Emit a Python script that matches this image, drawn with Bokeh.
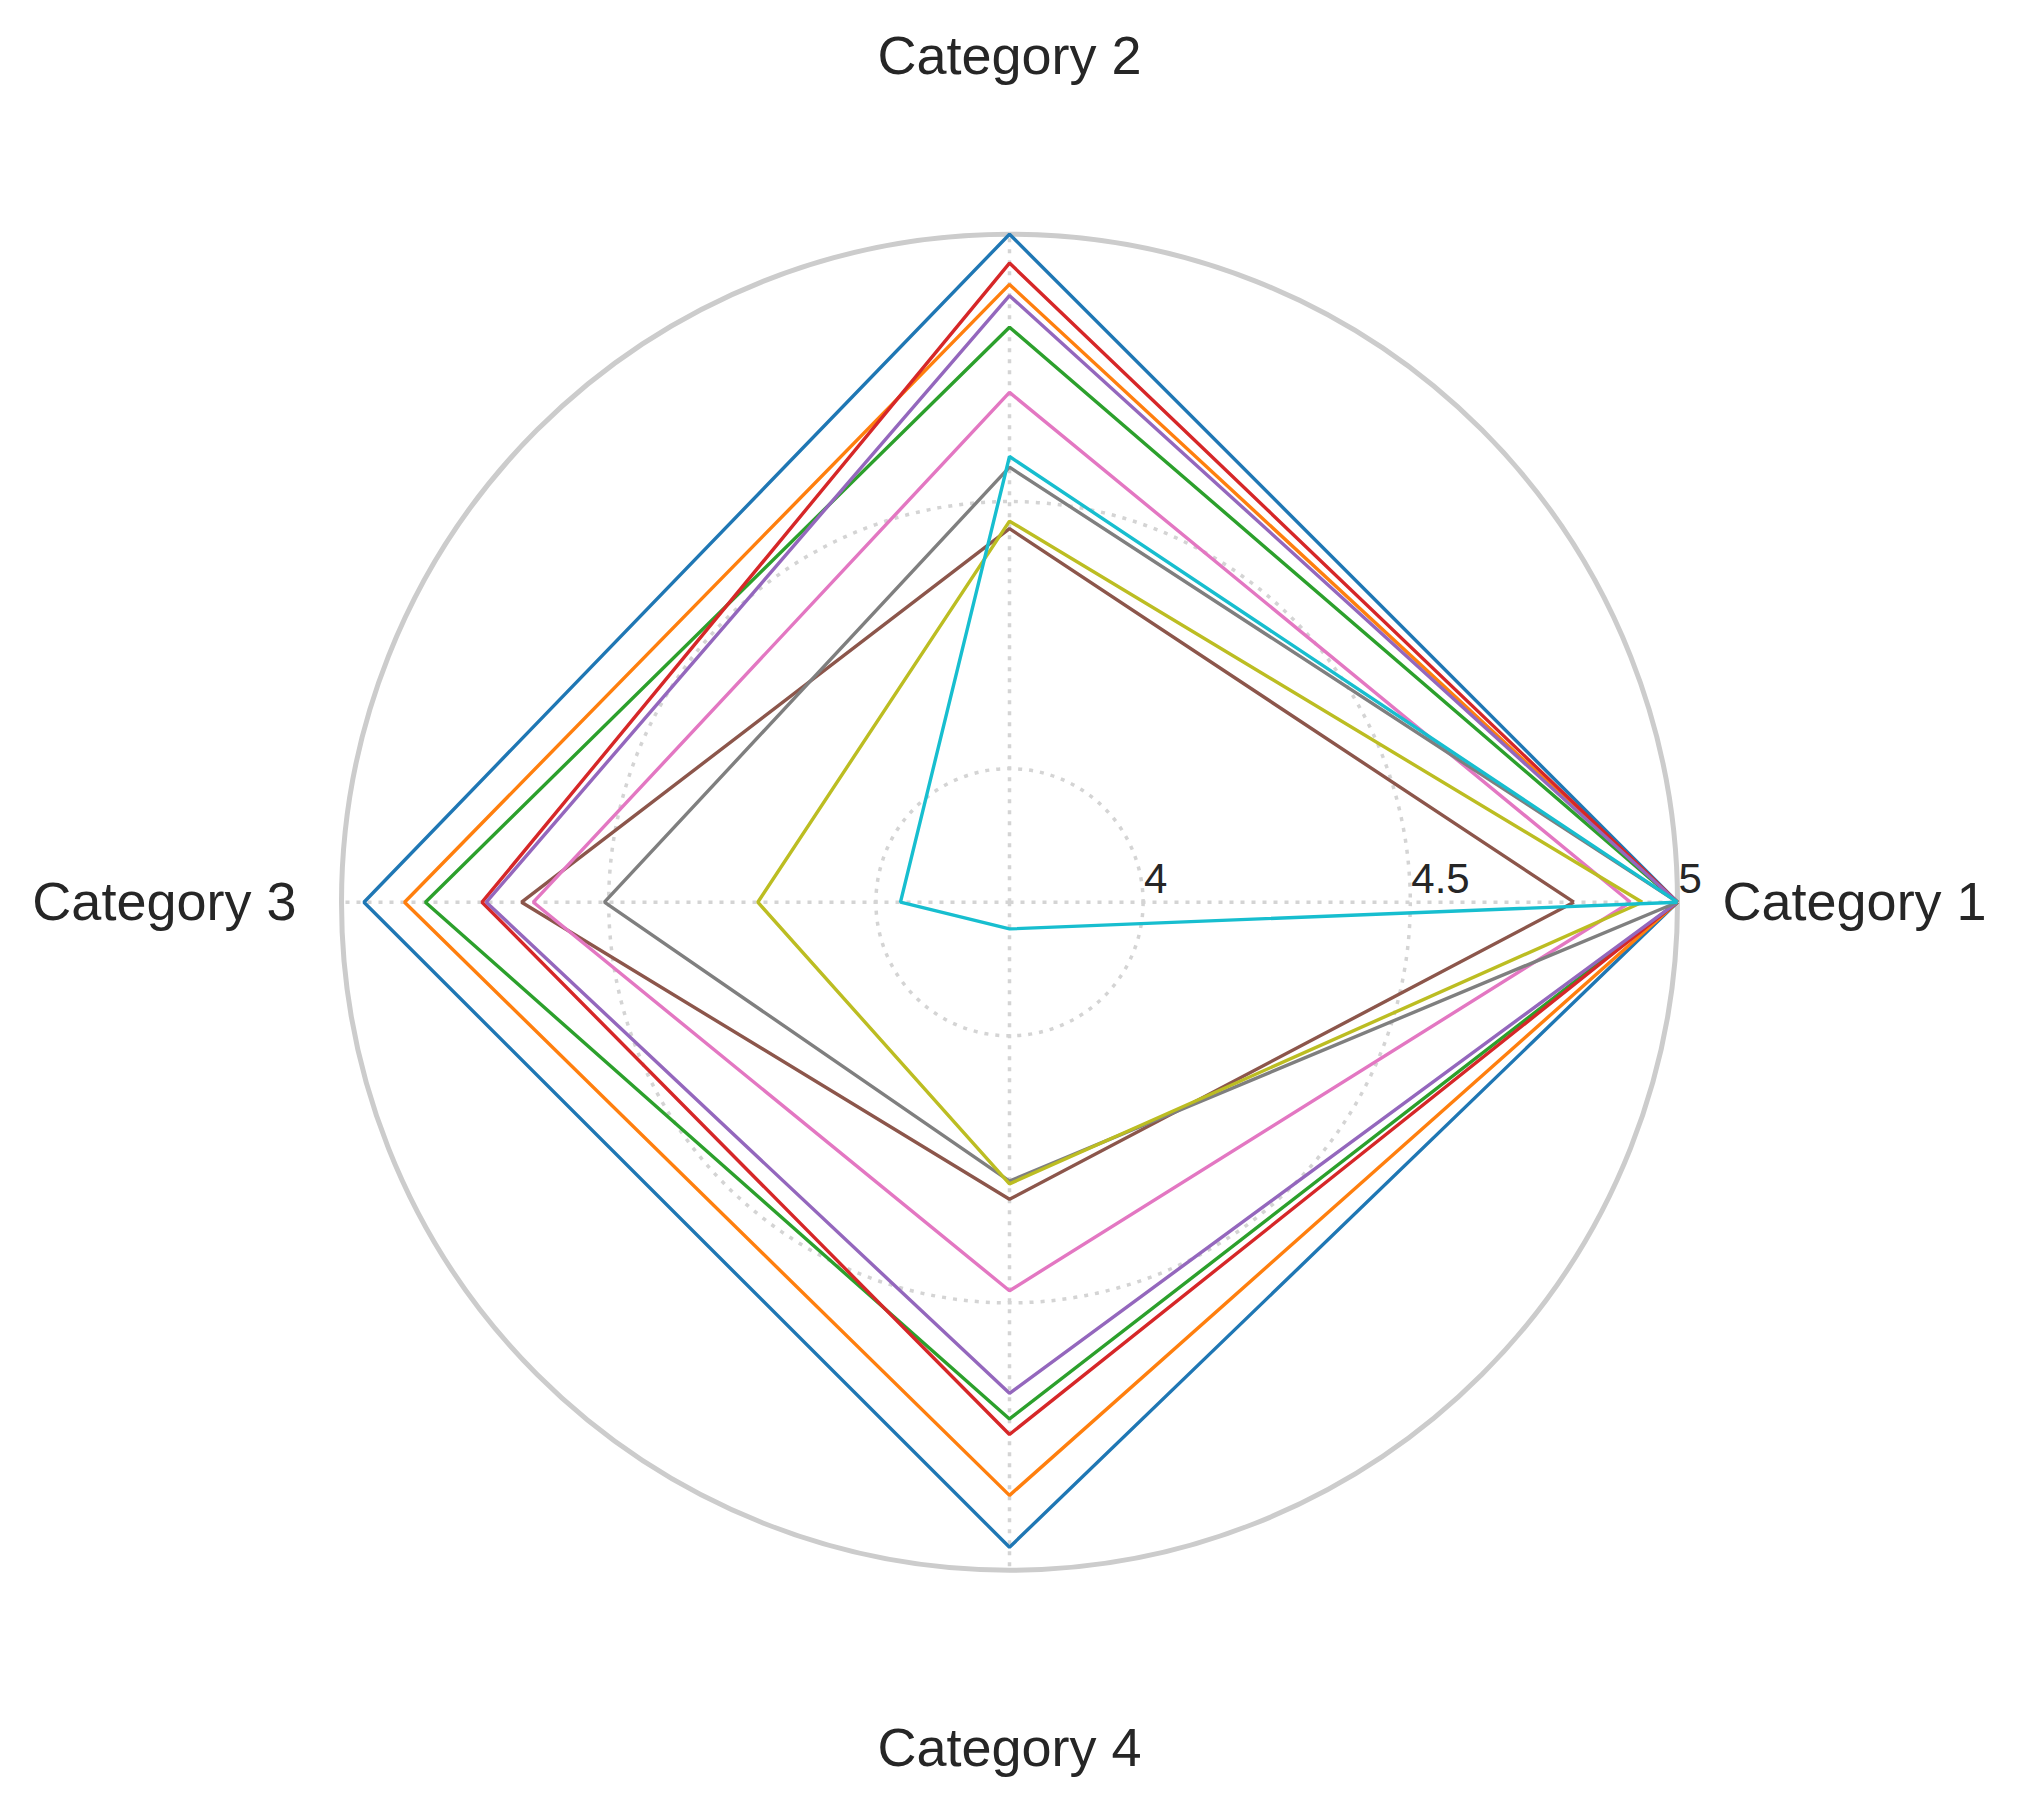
import numpy as np
from bokeh.plotting import figure
from bokeh.models import Range1d
from bokeh.embed import file_html
from bokeh.resources import INLINE
from bokeh.core.properties import value

# ---------------- data ----------------
categories = ["Category 1", "Category 2", "Category 3", "Category 4"]
series_1 = [5.000, 5.000, 4.958, 4.957]
series_2 = [5.000, 4.906, 4.882, 4.860]
series_3 = [5.000, 4.826, 4.843, 4.717]
series_4 = [5.000, 4.946, 4.737, 4.746]
series_5 = [5.000, 4.885, 4.729, 4.669]
series_6 = [4.806, 4.449, 4.663, 4.306]
series_7 = [4.912, 4.704, 4.641, 4.477]
series_8 = [5.000, 4.564, 4.508, 4.272]
series_9 = [4.934, 4.463, 4.221, 4.277]
series_10 = [5.000, 4.584, 3.954, 3.800]
r_ticks = [4.0, 4.5, 5.0]
r_tick_labels = ["4", "4.5", "5"]
r_min = 3.75
r_max = 5.0

all_series = [series_1, series_2, series_3, series_4, series_5,
              series_6, series_7, series_8, series_9, series_10]
colors = ["#1f77b4", "#ff7f0e", "#2ca02c", "#d62728", "#9467bd",
          "#8c564b", "#e377c2", "#7f7f7f", "#bcbd22", "#17becf"]

# ---------------- layout ----------------
S = 534.4          # pixels per value unit
W, H = 2002, 1788
cx, cy = 1009.0, 901.7   # centre position in figure pixels (from left / top)
TXT = "#262626"
FONT = "Liberation Sans"
TXT_UP = 16.0

p = figure(width=W, height=H,
           x_range=Range1d(-cx / S, (W - cx) / S),
           y_range=Range1d(-(H - cy) / S, cy / S),
           output_backend="svg", toolbar_location=None, min_border=0)
p.xaxis.visible = False
p.yaxis.visible = False
p.xgrid.visible = False
p.ygrid.visible = False
p.outline_line_color = None
p.background_fill_color = "white"
p.border_fill_color = "white"

n = len(categories)
theta = np.arange(n) * 2 * np.pi / n

# dotted grid circles
for t in r_ticks[:-1]:
    p.circle(x=[0], y=[0], radius=t - r_min, fill_color=None,
             line_color="#d4d4d4", line_width=3.5, line_dash="4 7")
# spokes
R = r_max - r_min
p.segment(x0=[0] * n, y0=[0] * n, x1=list(R * np.cos(theta)), y1=list(R * np.sin(theta)),
          line_color="#d4d4d4", line_width=3.5, line_dash="4 7")
# outer spine
p.circle(x=[0], y=[0], radius=R, fill_color=None, line_color="#cccccc", line_width=5)

# series
for vals, col in zip(all_series, colors):
    r = np.array(vals) - r_min
    xs = list(r * np.cos(theta)) + [r[0] * np.cos(theta[0])]
    ys = list(r * np.sin(theta)) + [r[0] * np.sin(theta[0])]
    p.line(xs, ys, line_color=col, line_width=3.4)

# radial tick labels
for t, lab in zip(r_ticks, r_tick_labels):
    p.text(x=[(t - r_min) + 1 / S], y=[(7.7 + TXT_UP) / S], text=[lab],
           text_font=value(FONT), text_font_size="42px", text_color=TXT,
           text_align="left", text_baseline="alphabetic")

# category labels
lab_r_h = 713 / S
lab_r_v = 846 / S
base_off = (-14.5 + TXT_UP) / S
aligns = ["left", "center", "right", "center"]
for i, cat in enumerate(categories):
    rr = lab_r_h if i % 2 == 0 else lab_r_v
    x = rr * np.cos(theta[i])
    y = rr * np.sin(theta[i]) + base_off
    p.text(x=[x], y=[y], text=[cat], text_font=value(FONT), text_font_size="54px",
           text_color=TXT, text_align=aligns[i], text_baseline="alphabetic")

open("out.html", "w").write(file_html(p, INLINE))
